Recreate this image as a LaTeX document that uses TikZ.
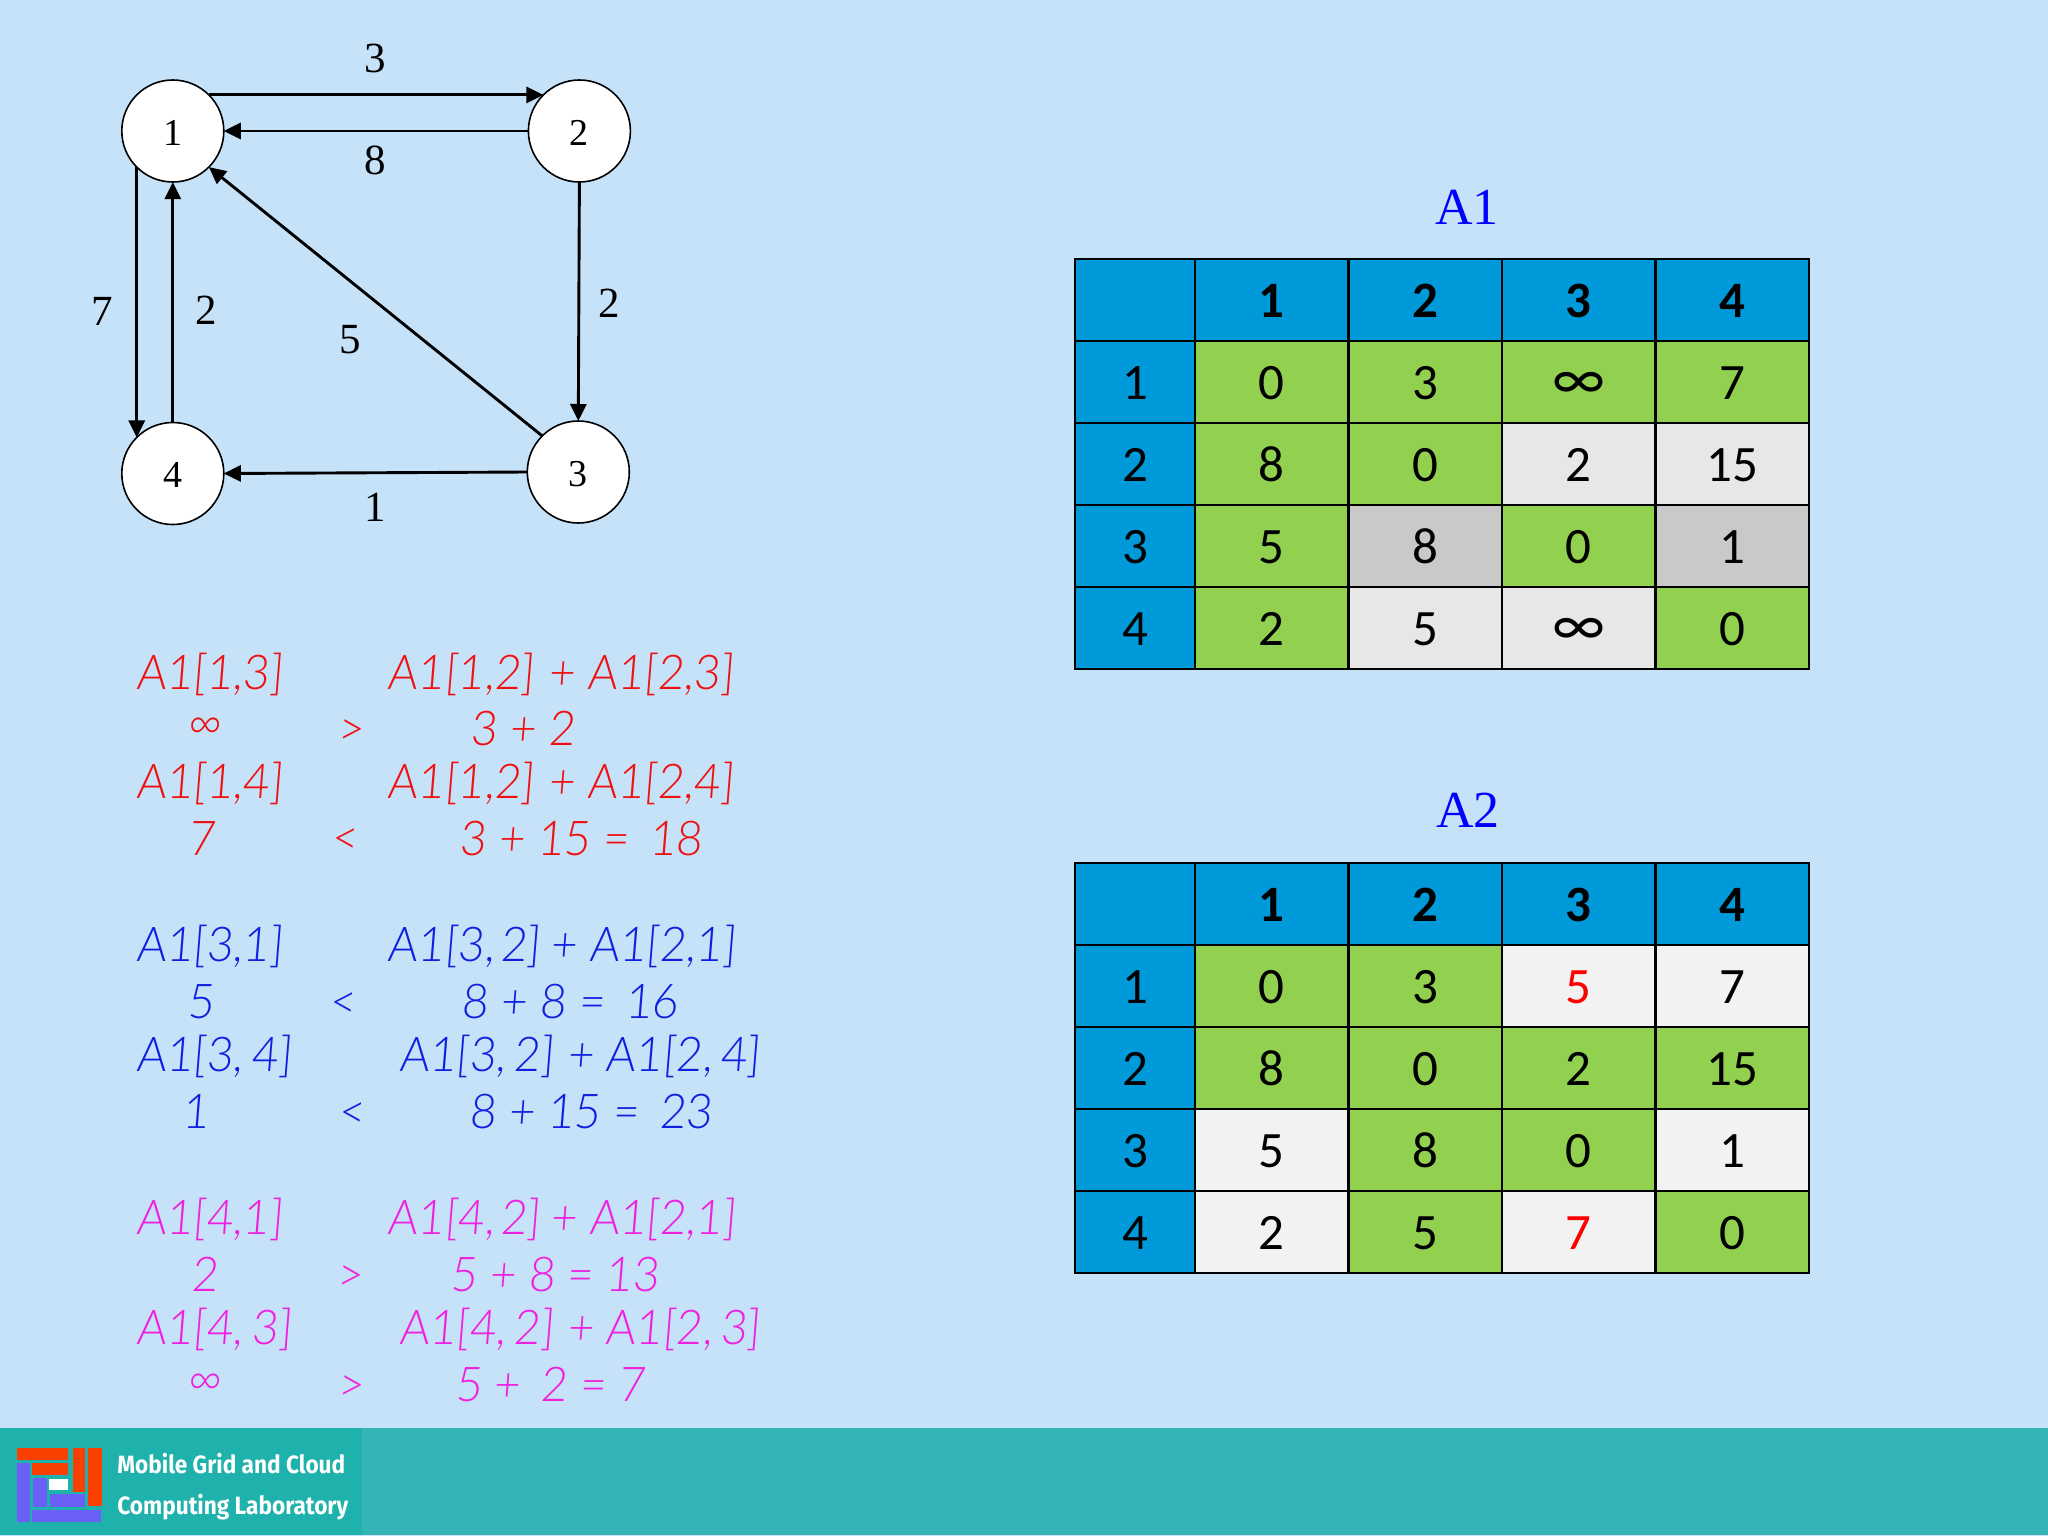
\documentclass[tikz,border=0pt]{standalone}
\usepackage{fontspec}
\usetikzlibrary{arrows.meta}
\setmainfont{Liberation Serif}
\newfontfamily\tabfont{Carlito}
\newfontfamily\handfont[FakeSlant=0.08,FakeStretch=0.95]{Lato Light}
\newfontfamily\footfont[FakeStretch=0.905]{Fira Sans}
\definecolor{bgc}{HTML}{C6E2F9}
\definecolor{footc}{HTML}{35B4B8}
\definecolor{footd}{HTML}{1FB1AB}
\definecolor{hdrc}{HTML}{0099DA}
\definecolor{grn}{HTML}{92D050}
\definecolor{lgr}{HTML}{E8E7E8}
\definecolor{mgr}{HTML}{C9C9C9}
\definecolor{wht}{HTML}{F2F2F2}
\definecolor{redt}{HTML}{F01010}
\definecolor{bluet}{HTML}{1020E0}
\definecolor{pinkt}{HTML}{F020E0}
\definecolor{logor}{HTML}{F94000}
\definecolor{logob}{HTML}{6A60F8}
\tikzset{
  vertex/.style={circle,draw=black,line width=.8pt,fill=white,minimum size=51pt,inner sep=0pt,outer sep=0pt,text height=14pt,text depth=0pt,font=\fontsize{19}{19}\selectfont},
  edgearrow/.style={-{Triangle[length=8.5pt,width=8pt]},line width=1.45pt,black},
  weight/.style={font=\fontsize{21.5}{21.5}\selectfont,inner sep=0pt},
  cellbase/.style={draw=black,line width=1.45pt,inner sep=0pt,outer sep=0pt,minimum height=41pt,text height=17.5pt,text depth=0pt,font=\tabfont\fontsize{25.5}{25.5}\selectfont},
  col0/.style={cellbase,minimum width=60pt},
  col1/.style={cellbase,minimum width=76.75pt},
  col2/.style={col1},col3/.style={col1},col4/.style={col1},
  titletext/.style={font=\fontsize{26}{26}\selectfont,text=blue,inner sep=0pt},
  hand/.style={font=\handfont\fontsize{24}{24}\selectfont,inner sep=0pt},
  footertext/.style={font=\footfont\bfseries\fontsize{12.5}{12.5}\selectfont,text=white,inner sep=0pt,anchor=west},
}
\newcommand{\mycell}[6]{%
  \pgfmathsetmacro{\cy}{#1+41+82*#2}%
  \edef\cx{\ifcase#3 1135\or 1271.75\or 1425.25\or 1578.75\or 1732.25\fi}%
  \node[col#3,fill=#4] (#5) at (\cx,\cy) {#6};}
\newcommand{\bigInf}{{\fontsize{31}{31}\selectfont ∞}}
\begin{document}
\begin{tikzpicture}[x=.5pt,y=-.5pt]
\useasboundingbox (0,0) rectangle (2048,1536);
\fill[bgc] (0,0) rectangle (2048,1536);
% footer
\fill[footc] (0,1428) rectangle (2048,1535);
\fill[footd] (0,1428) rectangle (362,1535);
\fill[logor] (17,1448) rectangle (68,1460);
\fill[logor] (32,1463) rectangle (68,1475);
\fill[logor] (73,1448) rectangle (85,1492);
\fill[logor] (88,1448) rectangle (102,1506);
\fill[logob] (17,1463) rectangle (30,1522);
\fill[logob] (32,1510) rectangle (101,1522);
\fill[logob] (33,1478) rectangle (47,1507);
\fill[logob] (50,1494) rectangle (85,1507);
\fill[white] (49,1479) rectangle (68,1490);
\node[footertext] (foota) at (117,1464) {Mobile Grid and Cloud};
\node[footertext] (footb) at (117,1507) {Computing Laboratory};
% graph
\node[vertex] (n1) at (172.8,131) {1};
\node[vertex] (n2) at (579.4,131) {2};
\node[vertex] (n3) at (578.3,472) {3};
\node[vertex] (n4) at (172.8,473.5) {4};
\draw[edgearrow] (n1.45) -- (n2.135);
\draw[edgearrow] (n2.west) -- (n1.east);
\draw[edgearrow] (n1.225) -- (n4.135);
\draw[edgearrow] (n4.north) -- (n1.south);
\draw[edgearrow] (n2.south) -- (n3.north);
\draw[edgearrow] (n3.west) -- (n4.east);
\draw[edgearrow] (n3.135) -- (n1.-45);
\node[weight] (w12) at (375.5,58) {3};
\node[weight] (w21) at (375.5,160) {8};
\node[weight] (w14) at (102.5,311) {7};
\node[weight] (w41) at (206,310) {2};
\node[weight] (w31) at (350,340) {5};
\node[weight] (w23) at (609.5,303) {2};
\node[weight] (w34) at (375.5,507) {1};
% handwriting
\begin{scope}[yshift=-.7pt]
\node[hand,text=redt,anchor=west] (ra) at (136,673) {A1[1,3]};
\node[hand,text=redt,anchor=west] (rb) at (387.5,673) {A1[1,2]\kern1pt{} + A1[2,3]};
\node[hand,text=redt] (rc) at (204,727.5) {∞};
\node[hand,text=redt] (rd) at (350.6,731) {>};
\node[hand,text=redt] (re) at (523,727.5) {3 + 2};
\node[hand,text=redt,anchor=west] (rf) at (136,782) {A1[1,4]};
\node[hand,text=redt,anchor=west] (rg) at (387.5,782) {A1[1,2]\kern1pt{} + A1[2,4]};
\node[hand,text=redt] (rh) at (202,837) {7};
\node[hand,text=redt] (ri) at (345,840) {<};
\node[hand,text=redt] (rj) at (581,837) {3 + 15 =\ \,18};
\node[hand,text=bluet,anchor=west] (ba) at (136,945.5) {A1[3,1]};
\node[hand,text=bluet,anchor=west] (bb) at (387.5,945.5) {A1[3,\kern3pt 2]\kern-1pt{} + A1[2,1]};
\node[hand,text=bluet] (bc) at (200.6,1000) {5};
\node[hand,text=bluet] (bd) at (343,1004) {<};
\node[hand,text=bluet] (be) at (570,1000) {8 + 8 =\ \,16};
\node[hand,text=bluet,anchor=west] (bf) at (136,1055) {A1[3,\kern4.5pt 4]};
\node[hand,text=bluet,anchor=west] (bg) at (399,1055) {A1[3,\kern4pt 2]\kern.5pt{} + A1[2,\kern4pt 4]};
\node[hand,text=bluet] (bh) at (196,1110) {1};
\node[hand,text=bluet] (bi) at (351.5,1114) {<};
\node[hand,text=bluet] (bj) at (591,1110) {8 + 15 =\ \,23};
\node[hand,text=pinkt,anchor=west] (pa) at (136,1218.5) {A1[4,1]};
\node[hand,text=pinkt,anchor=west] (pb) at (387.5,1218.5) {A1[4,\kern3pt 2]\kern-1pt{} + A1[2,1]};
\node[hand,text=pinkt] (pc) at (205,1273) {2};
\node[hand,text=pinkt] (pd) at (350,1277) {>};
\node[hand,text=pinkt] (pe) at (554.5,1273) {5 + 8 = 13};
\node[hand,text=pinkt,anchor=west] (pf) at (136,1328) {A1[4,\kern4.5pt 3]};
\node[hand,text=pinkt,anchor=west] (pg) at (399,1328) {A1[4,\kern4pt 2]\kern.5pt{} + A1[2,\kern4pt 3]};
\node[hand,text=pinkt] (ph) at (204,1383) {∞};
\node[hand,text=pinkt] (pi) at (350.6,1387) {>};
\node[hand,text=pinkt] (pj) at (550,1383) {5 +\ \,2 = 7};
\end{scope}
% table A1
\node[titletext] (ta) at (1467,207) {A1};
\mycell{259}{0}{0}{hdrc}{a00}{}
\mycell{259}{0}{1}{hdrc}{a01}{\textbf{1}}
\mycell{259}{0}{2}{hdrc}{a02}{\textbf{2}}
\mycell{259}{0}{3}{hdrc}{a03}{\textbf{3}}
\mycell{259}{0}{4}{hdrc}{a04}{\textbf{4}}
\mycell{259}{1}{0}{hdrc}{a10}{1}
\mycell{259}{1}{1}{grn}{a11}{0}
\mycell{259}{1}{2}{grn}{a12}{3}
\mycell{259}{1}{3}{grn}{a13}{\bigInf}
\mycell{259}{1}{4}{grn}{a14}{7}
\mycell{259}{2}{0}{hdrc}{a20}{2}
\mycell{259}{2}{1}{grn}{a21}{8}
\mycell{259}{2}{2}{grn}{a22}{0}
\mycell{259}{2}{3}{lgr}{a23}{2}
\mycell{259}{2}{4}{lgr}{a24}{15}
\mycell{259}{3}{0}{hdrc}{a30}{3}
\mycell{259}{3}{1}{grn}{a31}{5}
\mycell{259}{3}{2}{mgr}{a32}{8}
\mycell{259}{3}{3}{grn}{a33}{0}
\mycell{259}{3}{4}{mgr}{a34}{1}
\mycell{259}{4}{0}{hdrc}{a40}{4}
\mycell{259}{4}{1}{grn}{a41}{2}
\mycell{259}{4}{2}{lgr}{a42}{5}
\mycell{259}{4}{3}{lgr}{a43}{\bigInf}
\mycell{259}{4}{4}{grn}{a44}{0}
% table A2
\node[titletext] (tb) at (1468,810) {A2};
\mycell{863}{0}{0}{hdrc}{b00}{}
\mycell{863}{0}{1}{hdrc}{b01}{\textbf{1}}
\mycell{863}{0}{2}{hdrc}{b02}{\textbf{2}}
\mycell{863}{0}{3}{hdrc}{b03}{\textbf{3}}
\mycell{863}{0}{4}{hdrc}{b04}{\textbf{4}}
\mycell{863}{1}{0}{hdrc}{b10}{1}
\mycell{863}{1}{1}{grn}{b11}{0}
\mycell{863}{1}{2}{grn}{b12}{3}
\mycell{863}{1}{3}{wht}{b13}{\textcolor{red}{5}}
\mycell{863}{1}{4}{wht}{b14}{7}
\mycell{863}{2}{0}{hdrc}{b20}{2}
\mycell{863}{2}{1}{grn}{b21}{8}
\mycell{863}{2}{2}{grn}{b22}{0}
\mycell{863}{2}{3}{grn}{b23}{2}
\mycell{863}{2}{4}{grn}{b24}{15}
\mycell{863}{3}{0}{hdrc}{b30}{3}
\mycell{863}{3}{1}{wht}{b31}{5}
\mycell{863}{3}{2}{grn}{b32}{8}
\mycell{863}{3}{3}{grn}{b33}{0}
\mycell{863}{3}{4}{wht}{b34}{1}
\mycell{863}{4}{0}{hdrc}{b40}{4}
\mycell{863}{4}{1}{wht}{b41}{2}
\mycell{863}{4}{2}{grn}{b42}{5}
\mycell{863}{4}{3}{wht}{b43}{\textcolor{red}{7}}
\mycell{863}{4}{4}{grn}{b44}{0}
\end{tikzpicture}
\end{document}
